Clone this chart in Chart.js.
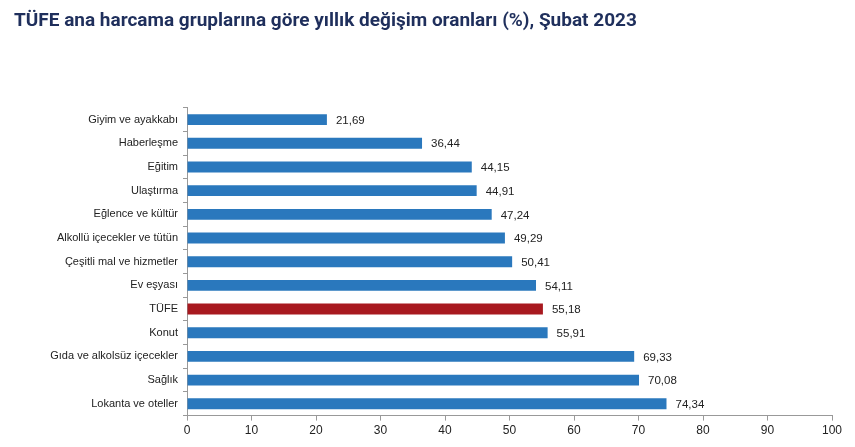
<!DOCTYPE html>
<html>
<head>
<meta charset="utf-8">
<script src="https://cdn.jsdelivr.net/npm/chart.js@4"></script>
<style>
  html, body { margin: 0; padding: 0; background: #fff; }
  #wrap { width: 855px; height: 447px; }
</style>
</head>
<body>
<div id="wrap"><canvas id="tufe"></canvas></div>
<script>
const gruplar = ['Giyim ve ayakkabı', 'Haberleşme', 'Eğitim', 'Ulaştırma', 'Eğlence ve kültür',
  'Alkollü içecekler ve tütün', 'Çeşitli mal ve hizmetler', 'Ev eşyası', 'TÜFE', 'Konut',
  'Gıda ve alkolsüz içecekler', 'Sağlık', 'Lokanta ve oteller'];
const oranlar = [21.69, 36.44, 44.15, 44.91, 47.24, 49.29, 50.41, 54.11, 55.18, 55.91, 69.33, 70.08, 74.34];
const xTicks = [0, 10, 20, 30, 40, 50, 60, 70, 80, 90, 100];

const mavi = '#2a78bd';
const kirmizi = '#a8191f';

// bar sonundaki değer etiketleri
const degerEtiketi = {
  id: 'degerEtiketi',
  afterDatasetsDraw(chart) {
    const ctx = chart.ctx;
    const meta = chart.getDatasetMeta(0);
    ctx.save();
    ctx.font = '11.5px "Liberation Sans", Arial, sans-serif';
    ctx.fillStyle = '#222';
    ctx.textBaseline = 'middle';
    meta.data.forEach((bar, i) => {
      const txt = oranlar[i].toFixed(2).replace('.', ',');
      ctx.fillText(txt, bar.x + 9, bar.y + 1);
    });
    ctx.restore();
  }
};

new Chart(document.getElementById('tufe'), {
  type: 'bar',
  data: {
    labels: gruplar,
    datasets: [{
      data: oranlar,
      backgroundColor: gruplar.map(g => g === 'TÜFE' ? kirmizi : mavi),
      categoryPercentage: 1,
      barPercentage: 0.46
    }]
  },
  options: {
    indexAxis: 'y',
    responsive: true,
    maintainAspectRatio: false,
    animation: false,
    layout: { padding: { left: 14, right: 23, top: 0, bottom: 6 } },
    plugins: {
      legend: { display: false },
      tooltip: { enabled: false },
      title: {
        display: true,
        text: 'TÜFE ana harcama gruplarına göre yıllık değişim oranları (%), Şubat 2023',
        align: 'start',
        color: '#1f2f5c',
        font: { family: 'Roboto', size: 19, weight: 'bold' },
        padding: { top: 10, bottom: 75 }
      }
    },
    scales: {
      x: {
        min: 0,
        max: 100,
        afterBuildTicks: s => { s.ticks = xTicks.map(v => ({ value: v })); },
        ticks: { color: '#222', font: { family: 'Liberation Sans', size: 12 }, padding: 3 },
        grid: { drawOnChartArea: false, tickLength: 5, color: '#999' },
        border: { color: '#999' }
      },
      y: {
        afterFit: s => { s.width = 173; },
        ticks: { color: '#222', font: { family: 'Liberation Sans', size: 11 }, padding: 5 },
        grid: { drawOnChartArea: false, tickLength: 4, color: '#999', offset: true },
        border: { color: '#999' }
      }
    }
  },
  plugins: [degerEtiketi]
});
</script>
</body>
</html>
